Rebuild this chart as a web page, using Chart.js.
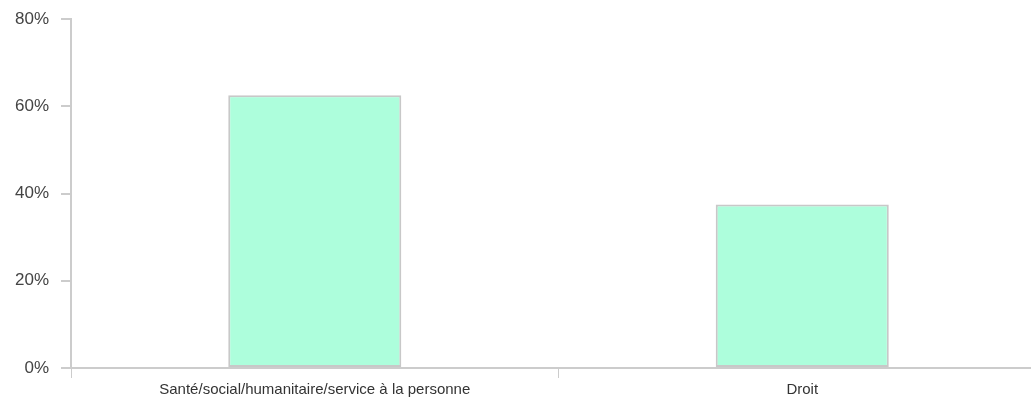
<!DOCTYPE html>
<html>
<head>
<meta charset="utf-8">
<script src="https://cdn.jsdelivr.net/npm/chart.js@4/dist/chart.umd.min.js"></script>
<style>
    html, body { margin: 0; padding: 0; background: #fff; overflow: hidden; }
    #wrap { position: absolute; left: 0; top: 0; width: 1046px; height: 400px; }
</style>
</head>
<body>
<div id="wrap"><canvas id="domainChart"></canvas></div>
<script>
const categories = ['Santé/social/humanitaire/service à la personne', 'Droit'];
const shares = [62.5, 37.5];
const yTicks = [0, 20, 40, 60, 80];

const ctx = document.getElementById('domainChart').getContext('2d');

new Chart(ctx, {
    type: 'bar',
    data: {
        labels: categories,
        datasets: [{
            data: shares,
            backgroundColor: '#adfedc',
            borderColor: '#c8c8c8',
            borderWidth: 2,
            borderSkipped: false,
            barPercentage: 0.355,
            categoryPercentage: 1
        }]
    },
    options: {
        responsive: true,
        maintainAspectRatio: false,
        animation: false,
        layout: {
            padding: { top: 19, left: 3, right: 0, bottom: -2 }
        },
        plugins: {
            legend: { display: false },
            tooltip: { enabled: false }
        },
        scales: {
            x: {
                grid: {
                    drawOnChartArea: false,
                    offset: true,
                    color: '#cccccc',
                    tickLength: 10,
                    lineWidth: 1
                },
                border: { color: '#cccccc', width: 2 },
                ticks: {
                    color: '#333333',
                    padding: 3,
                    maxRotation: 0,
                    font: { family: 'Liberation Sans, Arial, sans-serif', size: 15 }
                }
            },
            y: {
                min: 0,
                max: 80,
                afterBuildTicks: axis => {
                    axis.ticks = yTicks.map(v => ({ value: v }));
                },
                // let the layout padding alone decide where the top of the axis sits
                afterFit: axis => {
                    axis.paddingTop = 0;
                },
                grid: {
                    drawOnChartArea: false,
                    color: '#cccccc',
                    tickLength: 10,
                    lineWidth: 2
                },
                border: { color: '#cccccc', width: 2 },
                ticks: {
                    color: '#444444',
                    padding: 12,
                    callback: v => v + '%',
                    font: { family: 'Liberation Sans, Arial, sans-serif', size: 17 }
                }
            }
        }
    }
});
</script>
</body>
</html>
